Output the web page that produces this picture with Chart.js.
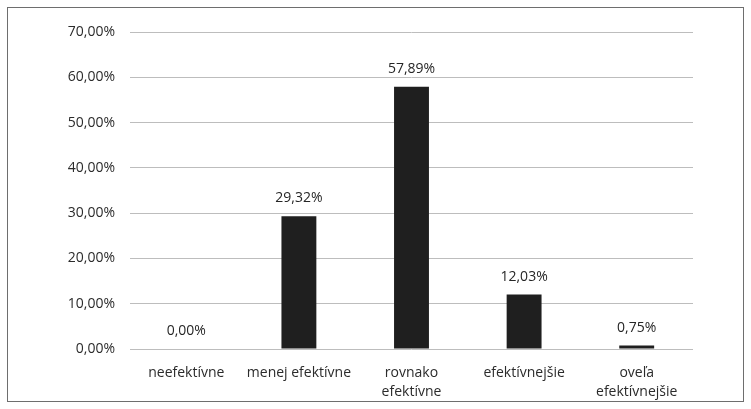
<!DOCTYPE html>
<html>
<head>
<meta charset="utf-8">
<script src="https://cdn.jsdelivr.net/npm/chart.js@4/dist/chart.umd.min.js"></script>
<style>
  html, body { margin: 0; padding: 0; background: #fff; }
  #frame {
    position: absolute; left: 7px; top: 7px;
    width: 735px; height: 393px;
    border: 1px solid #6e6e6e;
  }
</style>
</head>
<body>
<div id="frame"><canvas id="myChart" width="735" height="393"></canvas></div>
<script>
const categories = [
  "neefektívne",
  "menej efektívne",
  ["rovnako", "efektívne"],
  "efektívnejšie",
  ["oveľa", "efektívnejšie"],
];
const shares = [0.0, 29.32, 57.89, 12.03, 0.75];
const yTicks = [0, 10, 20, 30, 40, 50, 60, 70];

const fmt = (v) => v.toFixed(2).replace(".", ",") + "%";

// draws the percentage above each bar
const valueLabels = {
  id: "valueLabels",
  afterDatasetsDraw(chart) {
    const ctx = chart.ctx;
    const meta = chart.getDatasetMeta(0);
    ctx.save();
    ctx.font = "14px 'Open Sans'";
    ctx.fillStyle = "#262626";
    ctx.textAlign = "center";
    ctx.textBaseline = "middle";
    meta.data.forEach((bar, i) => {
      ctx.fillText(fmt(shares[i]), bar.x, bar.y - 18);
    });
    ctx.restore();
  },
};

let myChart = document.getElementById("myChart").getContext("2d");
let barChart = new Chart(myChart, {
  type: "bar",
  data: {
    labels: categories,
    datasets: [
      {
        data: shares,
        backgroundColor: "#1f1f1f",
        categoryPercentage: 1,
        barPercentage: 0.31,
      },
    ],
  },
  options: {
    responsive: false,
    animation: false,
    layout: { padding: { top: 24, right: 50, left: 0, bottom: 0 } },
    plugins: {
      legend: { display: false },
      tooltip: { enabled: false },
    },
    scales: {
      x: {
        grid: { display: false, drawTicks: false },
        border: { display: false },
        ticks: {
          padding: 14,
          maxRotation: 0,
          autoSkip: false,
          color: "#2b2b2b",
          font: { family: "'Open Sans'", size: 14, lineHeight: 1.36 },
        },
        afterFit(scale) { scale.height = 52; },
      },
      y: {
        min: 0,
        max: 70,
        afterBuildTicks(scale) {
          scale.ticks = yTicks.map((v) => ({ value: v }));
        },
        grid: { color: "#bdbdbd", lineWidth: 1, drawTicks: false },
        border: { display: false },
        ticks: {
          padding: 15,
          color: "#2b2b2b",
          font: { family: "'Open Sans'", size: 14 },
          callback: (v) => fmt(v),
        },
        afterFit(scale) { scale.width = 122; },
      },
    },
  },
  plugins: [valueLabels],
});
</script>
</body>
</html>
